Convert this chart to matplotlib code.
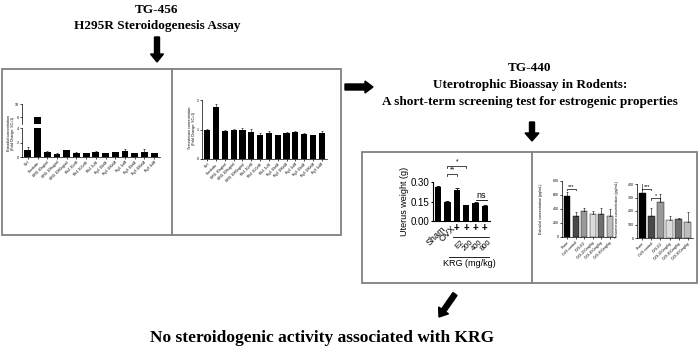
import matplotlib
matplotlib.use("Agg")
import matplotlib.pyplot as plt
from matplotlib.transforms import blended_transform_factory
from matplotlib.patches import Rectangle

W, H = 700, 354
fig = plt.figure(figsize=(W / 100, H / 100), dpi=100)
SERIF = "Liberation Serif"
SANS = "Liberation Sans"

# ---------------- data ----------------
h295_labels = ["Ctrl", "Forskolin", "KRG 10ug/ml", "KRG 100ug/ml", "KRG 1000ug/ml",
               "Rb1 10nM", "Rb1 100nM", "Rb1 1uM", "Rg1 10nM", "Rg1 100nM",
               "Rg1 1uM", "Rg3 10nM", "Rg3 100nM", "Rg3 1uM"]
h295_e2 = [1.0, 8.0, 0.7, 0.45, 0.9, 0.6, 0.55, 0.7, 0.55, 0.65, 0.85, 0.55, 0.7, 0.5]
h295_e2_err = [0.35, 0.0, 0.1, 0.05, 0.1, 0.1, 0.05, 0.1, 0.05, 0.05, 0.3, 0.05, 0.4, 0.05]
h295_t = [1.0, 1.75, 0.95, 1.0, 0.97, 0.9, 0.83, 0.87, 0.8, 0.88, 0.93, 0.85, 0.8, 0.88]
h295_t_err = [0.02, 0.12, 0.02, 0.03, 0.08, 0.12, 0.05, 0.08, 0.03, 0.05, 0.03, 0.02, 0.03, 0.07]

ut_labels = ["Sham", "OVX", "E2", "200", "400", "800"]
ut_weight = [0.26, 0.145, 0.235, 0.12, 0.135, 0.115]
ut_err = [0.012, 0.012, 0.02, 0.004, 0.01, 0.006]

serum_labels = ["Sham", "OVX control", "OVX-E2", "OVX-200mg/kg", "OVX-400mg/kg", "OVX-800mg/kg"]
serum_colors = ["#000000", "#4a4a4a", "#9a9a9a", "#dcdcdc", "#6e6e6e", "#bdbdbd"]
serum_e2 = [580, 305, 370, 330, 330, 300]
serum_e2_err = [60, 50, 50, 40, 80, 100]
serum_t = [330, 165, 265, 135, 140, 120]
serum_t_err = [115, 55, 60, 30, 10, 70]


def pax(x0, y0, x1, y1):
    return fig.add_axes([x0 / W, 1 - y1 / H, (x1 - x0) / W, (y1 - y0) / H])


def style(ax, fs, lw=0.5):
    for s in ["top", "right"]:
        ax.spines[s].set_visible(False)
    for s in ["left", "bottom"]:
        ax.spines[s].set_linewidth(lw)
    ax.tick_params(labelsize=fs, width=lw, length=1.5, pad=1)
    for lab in ax.get_xticklabels() + ax.get_yticklabels():
        lab.set_fontfamily(SANS)


def bracket(ax, x1, x2, y, drop, txt, fs):
    ax.plot([x1, x1, x2, x2], [y - drop, y, y, y - drop], color="black", lw=0.5, clip_on=False)
    ax.text((x1 + x2) / 2, y, txt, ha="center", va="bottom", fontsize=fs, family=SANS, clip_on=False)


# ---------------- H295R estradiol (broken axis) ----------------
x = list(range(len(h295_labels)))
axl = pax(22, 128, 160, 157)
axu = pax(22, 104, 160, 124)
for a in (axl, axu):
    a.bar(x, h295_e2, width=0.7, color="black", yerr=h295_e2_err,
          error_kw=dict(lw=0.4, capsize=0.8, capthick=0.4))
    a.set_xlim(-0.6, len(x) - 0.4)
axl.set_ylim(0, 4)
axl.set_yticks([0, 2, 4])
axu.set_ylim(7, 10)
axu.set_yticks([8, 10])
axu.set_xticks([])
axl.set_xticks(x)
axl.set_xticklabels(h295_labels, rotation=45, ha="right", rotation_mode="anchor")
style(axl, 2.5)
style(axu, 2.5)
axu.spines["bottom"].set_visible(False)
fig.text(11 / W, 1 - 133 / H, "Estradiol concentration\n(Fold Change: SC=1)",
         rotation=90, fontsize=2.5, family=SANS, ha="center", va="center")

# ---------------- H295R testosterone ----------------
axt = pax(202, 100, 327, 159)
axt.bar(x, h295_t, width=0.7, color="black", yerr=h295_t_err,
        error_kw=dict(lw=0.4, capsize=0.8, capthick=0.4))
axt.set_xlim(-0.6, len(x) - 0.4)
axt.set_ylim(0, 2)
axt.set_yticks([0, 1, 2])
axt.set_xticks(x)
axt.set_xticklabels(h295_labels, rotation=45, ha="right", rotation_mode="anchor")
style(axt, 2.5)
fig.text(192 / W, 1 - 128 / H, "Testosterone concentration\n(Fold Change: SC=1)",
         rotation=90, fontsize=2.5, family=SANS, ha="center", va="center")

# ---------------- Uterus weight ----------------
xu = list(range(len(ut_labels)))
axw = pax(433, 182, 490, 221)
axw.bar(xu, ut_weight, width=0.7, color="black", yerr=ut_err,
        error_kw=dict(lw=0.6, capsize=1.2, capthick=0.6))
axw.set_xlim(-0.55, len(xu) - 0.45)
axw.set_ylim(0, 0.30)
axw.set_yticks([0, 0.15, 0.30])
axw.set_yticklabels(["0.00", "0.15", "0.30"])
axw.set_xticks([])
style(axw, 7, lw=0.8)
axw.set_ylabel("Uterus weight (g)", fontsize=6.5, family=SANS, labelpad=1)
tb = blended_transform_factory(axw.transData, axw.transAxes)
hpx = 39.0
for i in range(2):
    axw.text(i + 0.35, -3 / hpx, ut_labels[i], transform=tb, rotation=45,
             ha="right", va="top", rotation_mode="anchor", fontsize=6.5, family=SANS)
for i in range(2, 6):
    axw.text(i, -2 / hpx, "+", transform=tb, ha="center", va="top",
             fontsize=7, family=SANS, fontweight="bold")
axw.plot([1.6, 5.45], [-16 / hpx, -16 / hpx], transform=tb, color="black", lw=0.6, clip_on=False)
for i in range(2, 6):
    axw.text(i + 0.35, -18 / hpx, ut_labels[i], transform=tb, rotation=45,
             ha="right", va="top", rotation_mode="anchor", fontsize=5.5, family=SANS)
axw.plot([1.2, 5.45], [-36 / hpx, -36 / hpx], transform=tb, color="black", lw=0.6, clip_on=False)
axw.text(3.3, -38 / hpx, "KRG (mg/kg)", transform=tb, ha="center", va="top",
         fontsize=6.5, family=SANS)
bracket(axw, 1, 2, 0.365, 0.02, "**", 5)
bracket(axw, 1, 3, 0.425, 0.02, "*", 5)
axw.plot([4, 5.2], [0.16, 0.16], color="black", lw=0.6, clip_on=False)
axw.text(4.6, 0.165, "ns", ha="center", va="bottom", fontsize=6.5, family=SANS)

# ---------------- Serum estradiol ----------------
xs = list(range(len(serum_labels)))
axe = pax(562, 181, 615, 237)
axe.bar(xs, serum_e2, width=0.7, color=serum_colors, edgecolor="black", linewidth=0.3,
        yerr=[[0] * len(xs), serum_e2_err], error_kw=dict(lw=0.4, capsize=0.8, capthick=0.4))
axe.set_xlim(-0.6, len(xs) - 0.4)
axe.set_ylim(0, 800)
axe.set_yticks([0, 200, 400, 600, 800])
axe.set_xticks(xs)
axe.set_xticklabels(serum_labels, rotation=45, ha="right", rotation_mode="anchor")
style(axe, 2.5)
bracket(axe, 0, 1, 690, 25, "***", 4)
fig.text(541 / W, 1 - 209 / H, "Estradiol concentration (pg/mL)", rotation=90,
         fontsize=2.6, family=SANS, ha="center", va="center")

# ---------------- Serum testosterone ----------------
axs = pax(637, 184, 693, 238)
axs.bar(xs, serum_t, width=0.7, color=serum_colors, edgecolor="black", linewidth=0.3,
        yerr=[[0] * len(xs), serum_t_err], error_kw=dict(lw=0.4, capsize=0.8, capthick=0.4))
axs.set_xlim(-0.6, len(xs) - 0.4)
axs.set_ylim(0, 400)
axs.set_yticks([0, 100, 200, 300, 400])
axs.set_xticks(xs)
axs.set_xticklabels(serum_labels, rotation=45, ha="right", rotation_mode="anchor")
style(axs, 2.5)
bracket(axs, 0, 1, 365, 12, "***", 4)
bracket(axs, 1, 2, 295, 12, "*", 4)
fig.text(617 / W, 1 - 210 / H, "Testosterone concentration (pg/mL)", rotation=90,
         fontsize=2.6, family=SANS, ha="center", va="center")

# ---------------- overlay: boxes, arrows, titles ----------------
ov = fig.add_axes([0, 0, 1, 1], zorder=10)
ov.set_xlim(0, W)
ov.set_ylim(H, 0)
ov.axis("off")
ov.patch.set_alpha(0)
ov.add_patch(Rectangle((2, 69), 339, 166, fill=False, edgecolor="#808080", lw=1.3))
ov.plot([172, 172], [69, 235], color="#808080", lw=1.3)
ov.add_patch(Rectangle((362, 152), 335, 131, fill=False, edgecolor="#808080", lw=1.3))
ov.plot([532, 532], [152, 283], color="#808080", lw=1.3)

ov.arrow(157, 37, 0, 25, width=5, head_width=13, head_length=8,
         length_includes_head=True, color="black")
ov.arrow(345, 87, 28, 0, width=6, head_width=12, head_length=8,
         length_includes_head=True, color="black")
ov.arrow(532, 122, 0, 19, width=5, head_width=14, head_length=8,
         length_includes_head=True, color="black")
ov.arrow(455, 294, -16, 23, width=5, head_width=12, head_length=8,
         length_includes_head=True, color="black")

tk = dict(family=SERIF, fontweight="bold", ha="center", va="center", color="black")
ov.text(157, 10, "TG-456", fontsize=9.5, **tk)
ov.text(157, 26, "H295R Steroidogenesis Assay", fontsize=9.5, **tk)
ov.text(530, 68, "TG-440", fontsize=9.5, **tk)
ov.text(530, 85, "Uterotrophic Bioassay in Rodents:", fontsize=9.5, **tk)
ov.text(530, 102, "A short-term screening test for estrogenic properties", fontsize=9.5, **tk)
ov.text(322, 338, "No steroidogenic activity associated with KRG", fontsize=12.5, **tk)

fig.savefig("out.png", dpi=100)
